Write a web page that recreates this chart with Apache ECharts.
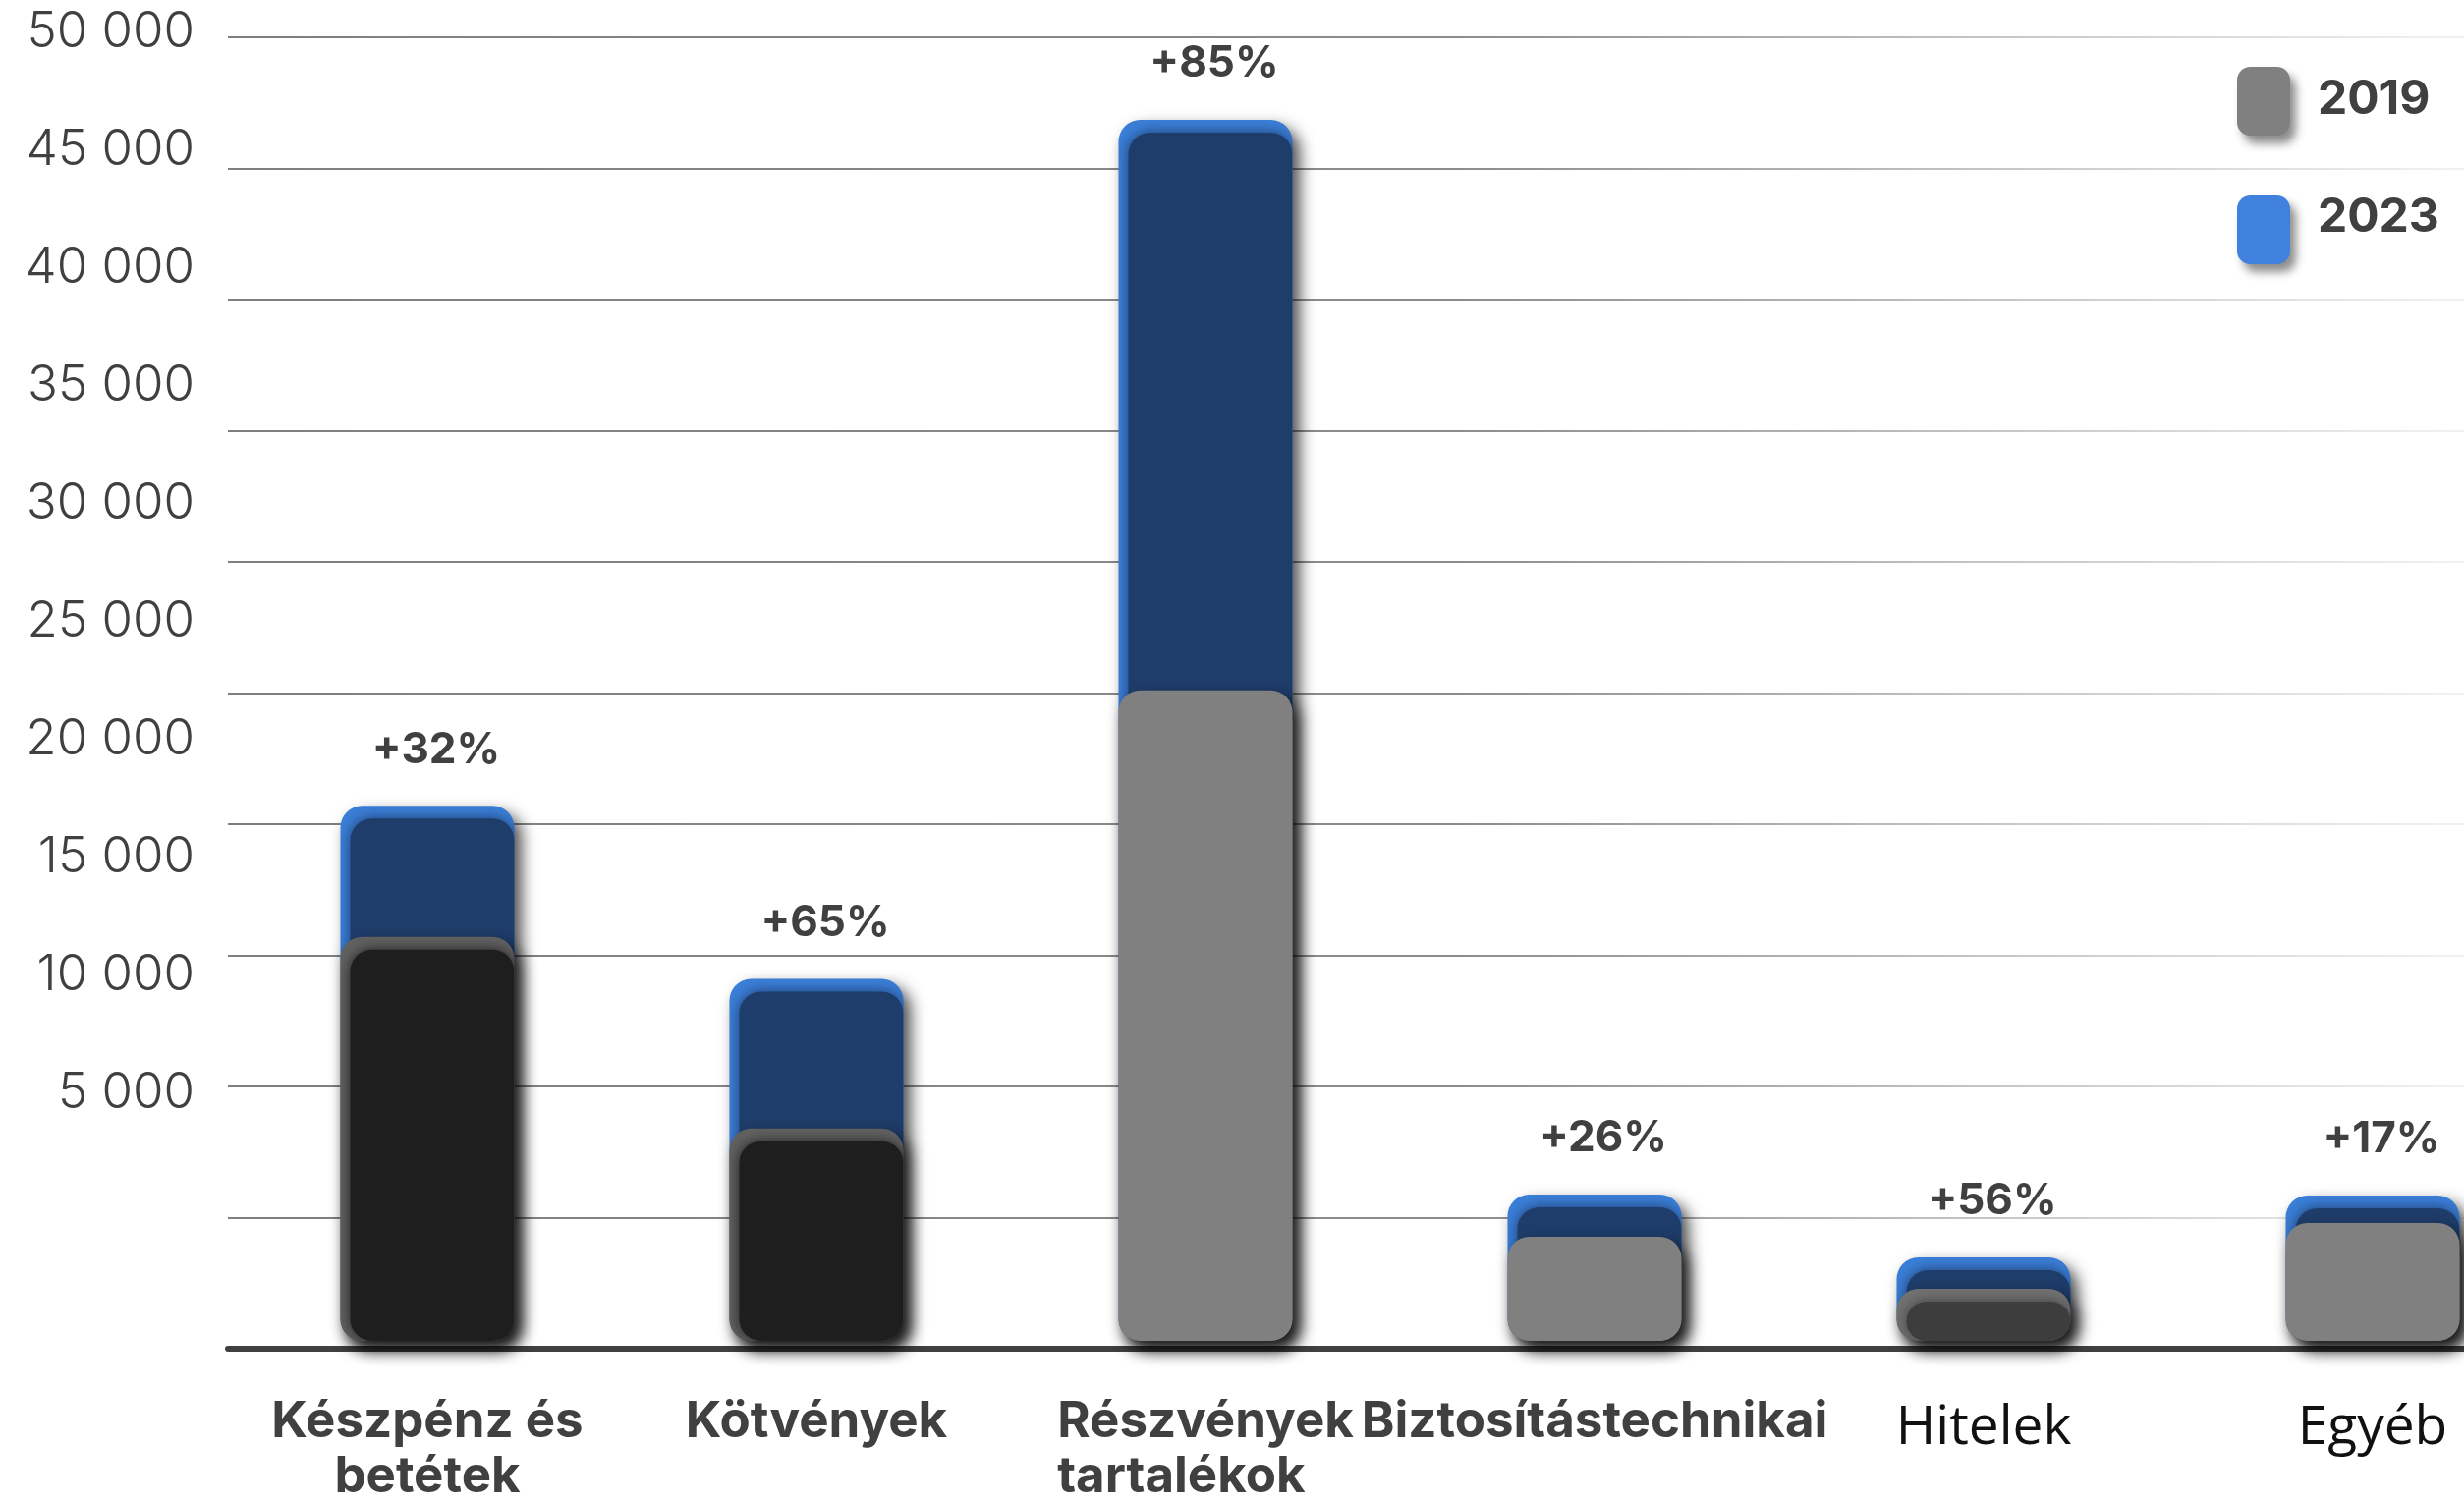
<!DOCTYPE html>
<html><head><meta charset="utf-8">
<script src="https://cdn.jsdelivr.net/npm/echarts@6/dist/echarts.min.js"></script>
<style>html,body{margin:0;padding:0;background:#fff}#c{width:2508px;height:1530px}</style>
</head><body><div id="c"></div>
<script>
// ---- data ----
const categories = ['Készpénz és betétek', 'Kötvények', 'Részvények', 'Biztosítástechnikai tartalékok', 'Hitelek', 'Egyéb'];
const tickLabels = ['Készpénz és\nbetétek', 'Kötvények', 'Részvények\ntartalékok', 'Biztosítástechnikai', 'Hitelek', 'Egyéb'];
const values2019 = [15700, 8400, 25100, 4270, 2280, 4790];
const values2023 = [20700, 14100, 46850, 5880, 3480, 5840];
const changeLabels = ['+32%', '+65%', '+85%', '+26%', '+56%', '+17%'];
const yTickLabels = ['5 000', '10 000', '15 000', '20 000', '25 000', '30 000', '35 000', '40 000', '45 000', '50 000'];
const seriesNames = ['2019', '2023'];

// ---- styles ----
const fill2019 = ['#1e1e1e', '#1e1e1e', '#808080', '#808080', '#3d3d3d', '#808080'];
const edge2019 = ['#626262', '#626262', '#808080', '#808080', '#727272', '#808080'];
const fill2023 = ['#1f3d6a', '#1f3d6a', '#1f3d6a', '#1f3d6a', '#1f3d6a', '#1f3d6a'];
const edge2023 = ['#3b7fd9', '#3b7fd9', '#3b7fd9', '#3b7fd9', '#3b7fd9', '#3b7fd9'];
const BAR_W = 177, RADIUS = 22, LIFT = 8, EX = 10, EY = 13;
const FONT = 'Inter';
const TXT = '#404040';

function makeRender(fills, edges, withLabels) {
  return function (params, api) {
    const i = params.dataIndex;
    const p = api.coord([api.value(0), api.value(1)]);
    const b = api.coord([api.value(0), 0]);
    const x = p[0] - BAR_W / 2, y = p[1], w = BAR_W, h = b[1] - LIFT - y;
    const r = Math.min(RADIUS, h / 2);
    const outer = {x: x, y: y, width: w, height: h, r: r};
    const children = [
      {type: 'rect', shape: outer,
       style: {fill: edges[i], shadowBlur: 16, shadowOffsetX: 7, shadowOffsetY: 8, shadowColor: 'rgba(0,0,0,0.72)'}},
      {type: 'rect', shape: {x: x + EX, y: y + EY, width: w - EX, height: h - EY, r: r},
       style: {fill: fills[i], shadowBlur: 14, shadowColor: fills[i]},
       clipPath: {type: 'rect', shape: outer}}
    ];
    if (withLabels) {
      children.push({type: 'text', style: {text: changeLabels[i], x: p[0] + 9, y: y - 57,
        fill: TXT, font: '700 44px ' + FONT, align: 'center', verticalAlign: 'middle'}});
    }
    return {type: 'group', children: children};
  };
}

const chart = echarts.init(document.getElementById('c'), null, {renderer: 'canvas'});
const gridGrad = new echarts.graphic.LinearGradient(0, 0, 1, 0, [
  {offset: 0, color: '#7f7f7f'}, {offset: 0.55, color: '#8c8c8c'},
  {offset: 0.8, color: '#c8c8c8'}, {offset: 1, color: '#f2f2f2'}]);

chart.setOption({
  animation: false,
  backgroundColor: '#fff',
  grid: [
    {left: 435, right: 93, top: 38, bottom: 157},
    {left: 232, right: 0, top: 38, bottom: 157},
    {left: 198, width: 1, top: 33, bottom: 417}
  ],
  xAxis: [
    {type: 'category', gridIndex: 0, data: categories, boundaryGap: false,
     axisLine: {show: false}, axisTick: {show: false},
     axisLabel: {interval: 0, margin: 47,
       formatter: function (v, idx) {
         const t = tickLabels[idx];
         if (idx >= 4) return '{r|' + t + '}';
         const st = idx === 2 ? 'bl' : 'b';
         return t.split('\n').map(s => '{' + st + '|' + s + '}').join('\n');
       },
       rich: {
         b: {fontFamily: FONT, fontWeight: 700, fontSize: 51, color: TXT, lineHeight: 56},
         bl: {fontFamily: FONT, fontWeight: 700, fontSize: 51, color: TXT, lineHeight: 56, align: 'left'},
         r: {fontFamily: 'Open Sans', fontWeight: 400, fontSize: 55, color: '#111', lineHeight: 68}
       }}},
    {type: 'value', gridIndex: 1, min: 0, max: 1, show: true,
     axisLine: {show: true, lineStyle: {color: '#404040', width: 6}},
     axisTick: {show: false}, axisLabel: {show: false}, splitLine: {show: false}},
    {type: 'value', gridIndex: 2, min: 0, max: 1, show: false}
  ],
  yAxis: [
    {type: 'value', gridIndex: 0, min: 0, max: 50000, interval: 5000, show: false},
    {type: 'value', gridIndex: 1, min: 0, max: 50000, interval: 5000,
     axisLine: {show: false}, axisTick: {show: false}, axisLabel: {show: false},
     splitLine: {show: true, lineStyle: {color: gridGrad, width: 2}}},
    {type: 'value', gridIndex: 2, min: 5000, max: 50000, interval: 5000,
     axisLine: {show: false}, axisTick: {show: false}, splitLine: {show: false},
     axisLabel: {margin: 0, align: 'right', fontFamily: FONT, fontWeight: 300, fontSize: 51, color: TXT,
       formatter: function (v) { return yTickLabels[Math.round(v / 5000) - 1]; }}}
  ],
  legend: {
    orient: 'vertical', left: 2272, top: 63, itemWidth: 54, itemHeight: 70, itemGap: 60,
    icon: 'roundRect',
    itemStyle: {shadowBlur: 10, shadowOffsetX: 6, shadowOffsetY: 8, shadowColor: 'rgba(0,0,0,0.45)'},
    formatter: function (name) { return (name === seriesNames[0] ? '{a|' : '{b|') + name + '}'; },
    textStyle: {fontFamily: FONT, fontWeight: 700, fontSize: 48, color: TXT,
      rich: {
        a: {fontFamily: FONT, fontWeight: 700, fontSize: 48, color: TXT, padding: [0, 0, 2, 23]},
        b: {fontFamily: FONT, fontWeight: 700, fontSize: 48, color: TXT, padding: [0, 0, 24, 23]}
      }},
    data: [
      {name: seriesNames[0], itemStyle: {color: '#808080'}},
      {name: seriesNames[1], itemStyle: {color: '#3f81dd'}}
    ]
  },
  series: [
    {name: seriesNames[1], type: 'custom', xAxisIndex: 0, yAxisIndex: 0, z: 2,
     itemStyle: {color: '#3f81dd'},
     renderItem: makeRender(fill2023, edge2023, true),
     encode: {x: 0, y: 1},
     data: values2023.map((v, i) => [i, v])},
    {name: seriesNames[0], type: 'custom', xAxisIndex: 0, yAxisIndex: 0, z: 3,
     itemStyle: {color: '#808080'},
     renderItem: makeRender(fill2019, edge2019, false),
     encode: {x: 0, y: 1},
     data: values2019.map((v, i) => [i, v])}
  ]
});
</script></body></html>
